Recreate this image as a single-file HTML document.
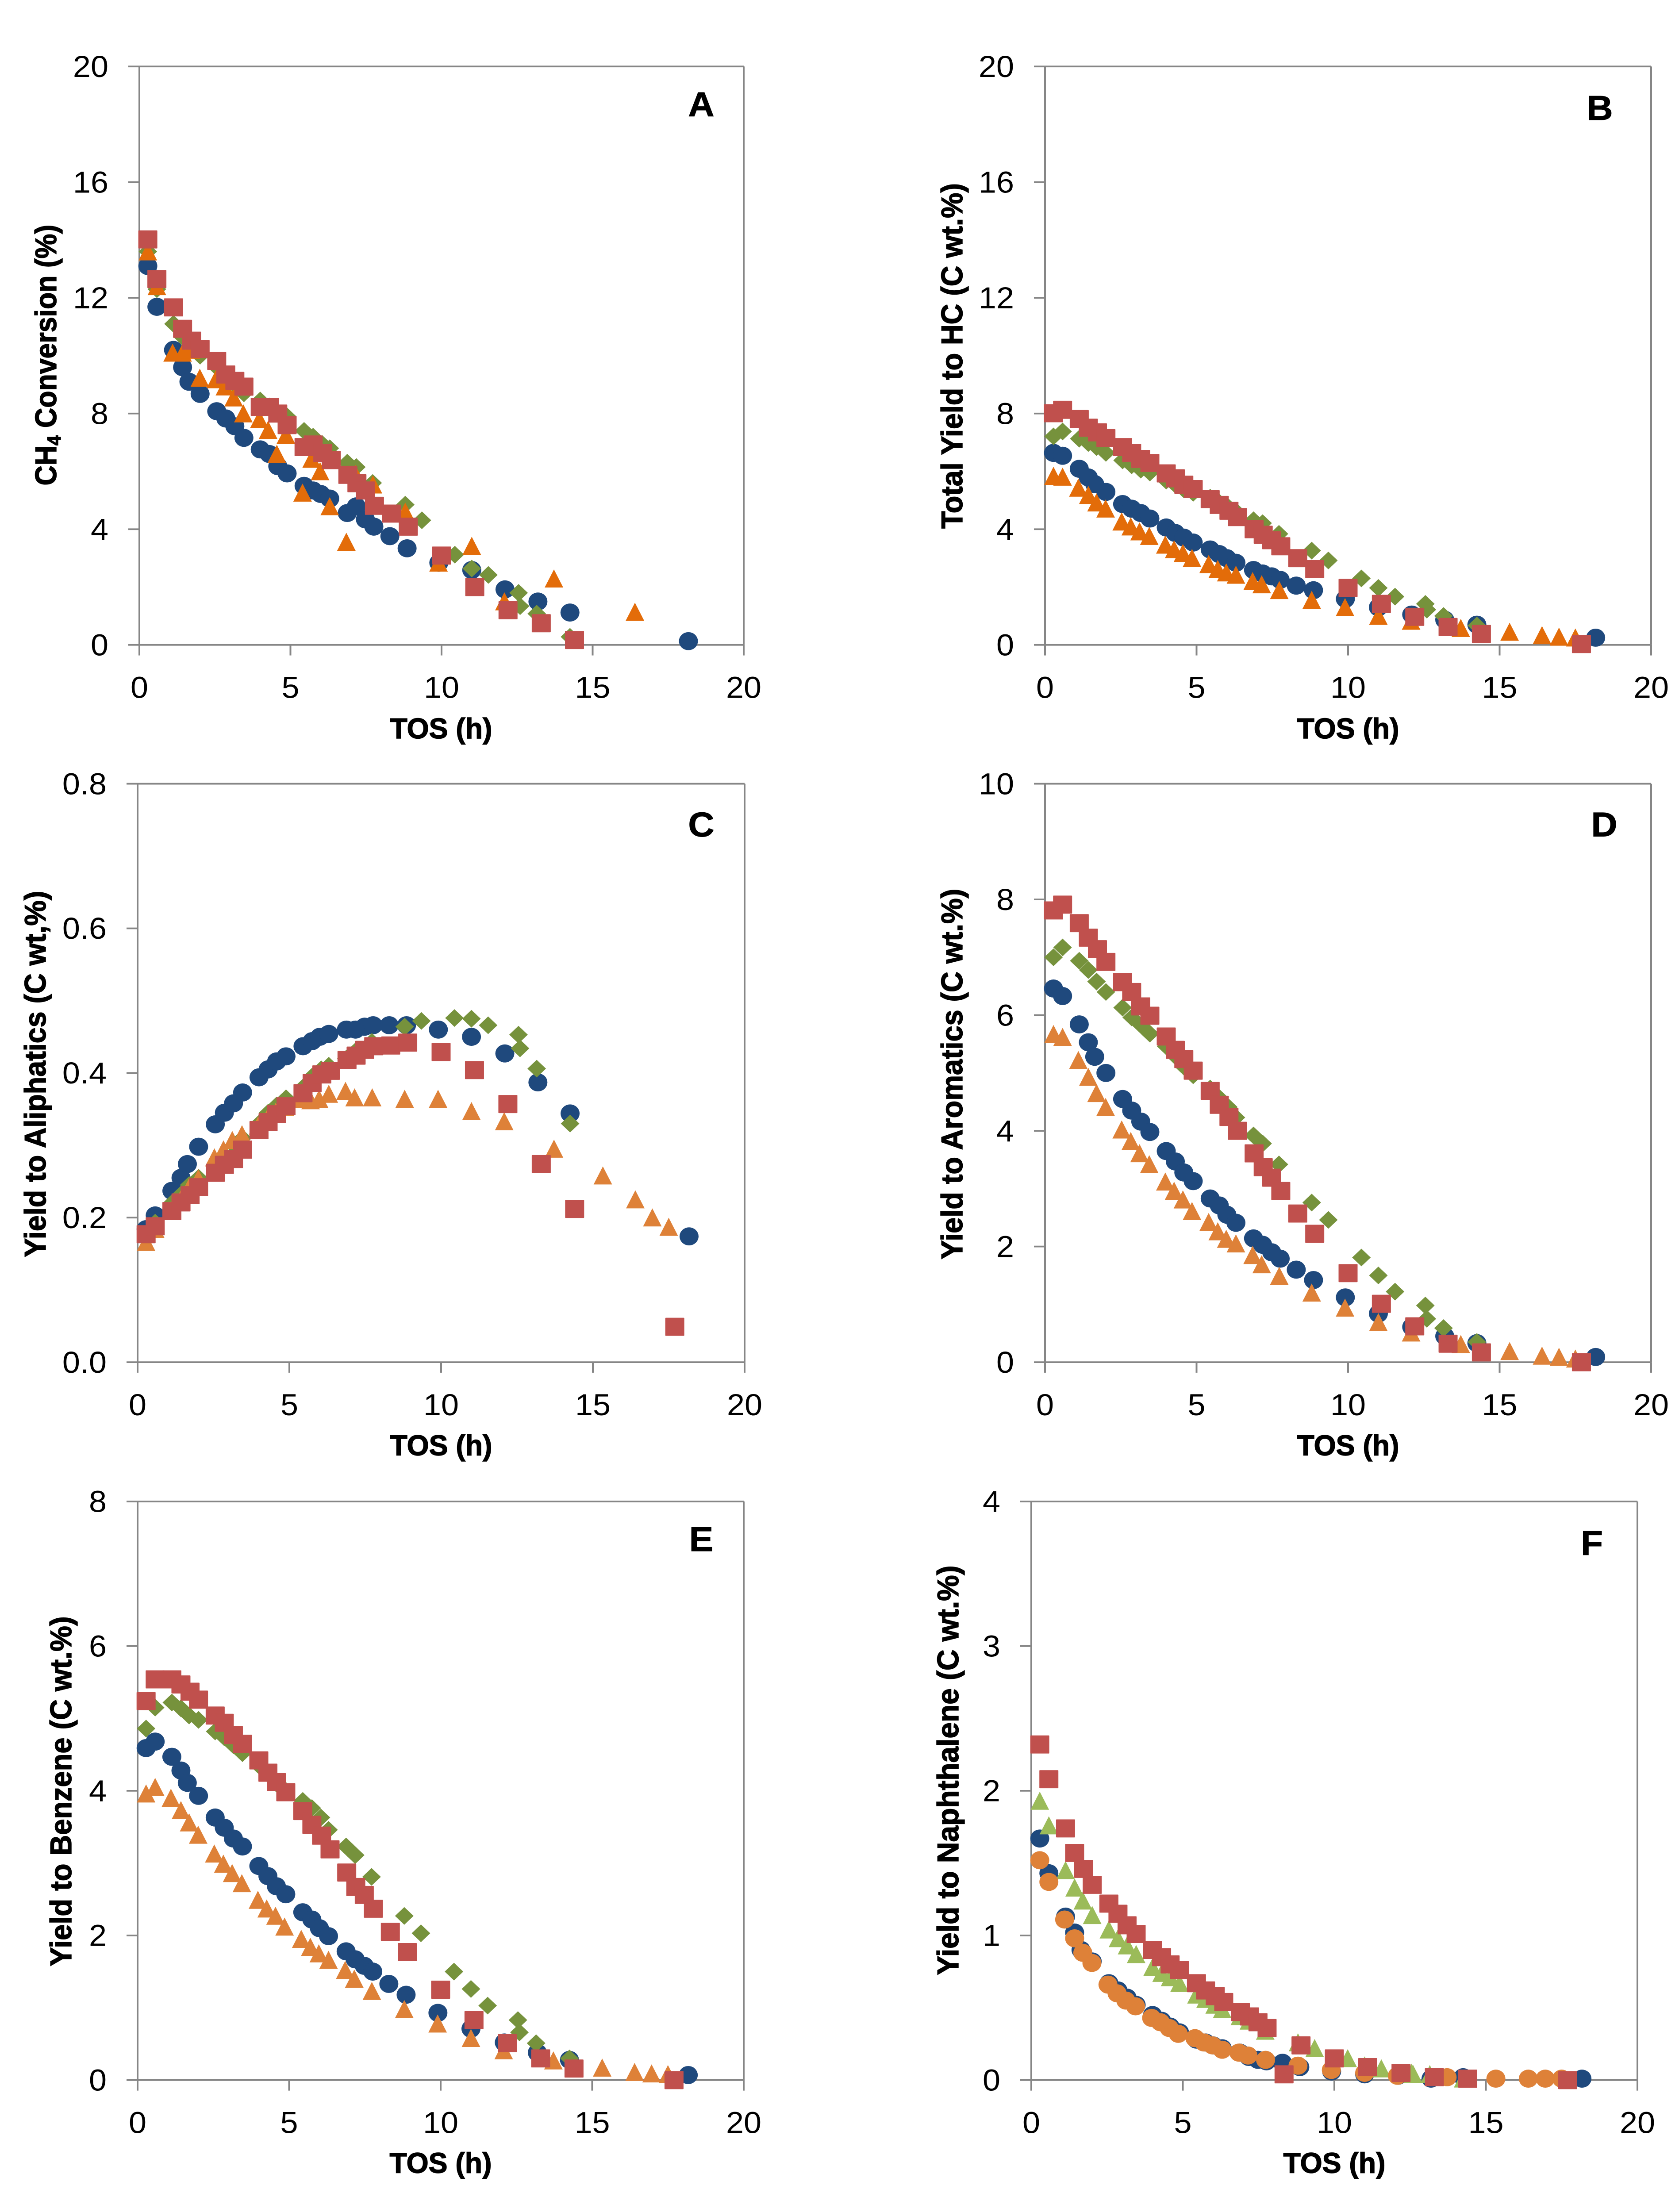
<!DOCTYPE html>
<html lang="en">
<head>
<meta charset="utf-8">
<title>Catalyst performance versus time on stream</title>
<style>
html,body{margin:0;padding:0;background:#fff;width:100%;height:100%;overflow:hidden;}
svg{display:block;width:100vw;height:100vh;overflow:hidden;}
text{font-family:"Liberation Sans",sans-serif;fill:#000;}
.tick{font-size:72px;}
.title{font-size:68px;font-weight:bold;stroke:#000;stroke-width:1.5px;}
.letter{font-size:82px;font-weight:bold;stroke:#000;stroke-width:1px;}
</style>
</head>
<body>
<svg id="chart" xmlns="http://www.w3.org/2000/svg" viewBox="0 0 3795 5258" preserveAspectRatio="none">
<rect x="0" y="0" width="3795" height="5258" fill="#ffffff"/>
<g id="panel-a"></g>
<g id="panel-b"></g>
<g id="panel-c"></g>
<g id="panel-d"></g>
<g id="panel-e"></g>
<g id="panel-f"></g>

<g>
<text class="title" transform="translate(127,844) rotate(-90)" text-anchor="middle" textLength="620" lengthAdjust="spacingAndGlyphs">CH<tspan font-size="44" dy="10">4</tspan><tspan dy="-10"> Conversion (%)</tspan></text>
<text class="title" transform="translate(2175,846) rotate(-90)" text-anchor="middle" textLength="821" lengthAdjust="spacingAndGlyphs">Total Yield to HC (C wt.%)</text>
<text class="title" transform="translate(103,2553) rotate(-90)" text-anchor="middle" textLength="871" lengthAdjust="spacingAndGlyphs">Yield to Aliphatics (C wt,%)</text>
<text class="title" transform="translate(2175,2553) rotate(-90)" text-anchor="middle" textLength="881" lengthAdjust="spacingAndGlyphs">Yield to Aromatics (C wt.%)</text>
<text class="title" transform="translate(161,4258) rotate(-90)" text-anchor="middle" textLength="832" lengthAdjust="spacingAndGlyphs">Yield to Benzene (C wt.%)</text>
<text class="title" transform="translate(2166,4208) rotate(-90)" text-anchor="middle" textLength="974" lengthAdjust="spacingAndGlyphs">Yield to Naphthalene (C wt.%)</text>

<text class="title" x="997" y="1755" text-anchor="middle" textLength="231" lengthAdjust="spacingAndGlyphs">TOS (h)</text>
<text class="title" x="3047" y="1755" text-anchor="middle" textLength="231" lengthAdjust="spacingAndGlyphs">TOS (h)</text>
<text class="title" x="997" y="3459" text-anchor="middle" textLength="231" lengthAdjust="spacingAndGlyphs">TOS (h)</text>
<text class="title" x="3047" y="3459" text-anchor="middle" textLength="231" lengthAdjust="spacingAndGlyphs">TOS (h)</text>
<text class="title" x="996" y="5165" text-anchor="middle" textLength="231" lengthAdjust="spacingAndGlyphs">TOS (h)</text>
<text class="title" x="3016" y="5165" text-anchor="middle" textLength="231" lengthAdjust="spacingAndGlyphs">TOS (h)</text>

<text class="letter" x="1585" y="276" text-anchor="middle">A</text>
<text class="letter" x="3616" y="285" text-anchor="middle">B</text>
<text class="letter" x="1585" y="1988" text-anchor="middle">C</text>
<text class="letter" x="3626" y="1988" text-anchor="middle">D</text>
<text class="letter" x="1585" y="3687" text-anchor="middle">E</text>
<text class="letter" x="3598" y="3696" text-anchor="middle">F</text>
</g>
</svg>
<script>
const xTickLabels = ['0','5','10','15','20'];
const yTicksA = ['0','4','8','12','16','20'];
const yTicksB = ['0','4','8','12','16','20'];
const yTicksC = ['0.0','0.2','0.4','0.6','0.8'];
const yTicksD = ['0','2','4','6','8','10'];
const yTicksE = ['0','2','4','6','8'];
const yTicksF = ['0','1','2','3','4'];

const tosCircle = [0.28,0.58,1.13,1.43,1.64,2.01,2.56,2.86,3.16,3.46,4.0,4.3,4.58,4.89,5.45,5.75,6.0,6.3,6.88,7.18,7.48,7.76,8.29,8.86,9.91,11.0,12.1,13.19,14.25,18.17];
const tosDiamond = [0.28,0.58,1.13,1.43,1.7,2.01,2.56,2.86,3.16,3.46,4.0,4.3,4.58,4.89,5.45,5.75,6.05,6.3,6.88,7.18,7.72,8.8,9.35,10.44,11.0,11.55,12.55,12.6,13.15,14.25];
const tosSquare = [0.28,0.58,1.13,1.43,1.73,2.01,2.56,2.86,3.16,3.46,4.0,4.3,4.58,4.89,5.45,5.75,6.07,6.35,6.9,7.2,7.48,7.78,8.34,8.9,10.0,11.1,12.2,13.3,14.4,17.7];
const tosTriangle = [0.28,0.58,1.1,1.43,1.7,2.0,2.53,2.83,3.12,3.44,3.97,4.26,4.55,4.85,5.4,5.7,5.98,6.3,6.85,7.15,7.73,8.8,9.9,11.0,12.08,13.72,15.33,16.4,16.96,17.5];

const conversionCircle = [13.1,11.69,10.2,9.6,9.1,8.68,8.08,7.83,7.56,7.16,6.76,6.6,6.18,5.93,5.5,5.34,5.22,5.06,4.56,4.79,4.34,4.09,3.76,3.34,2.84,2.59,1.92,1.5,1.12,0.13];
const conversionDiamond = [13.6,12.3,11.1,10.65,10.35,10.0,9.6,9.25,9.0,8.7,8.45,8.25,8.05,7.9,7.4,7.2,6.95,6.8,6.3,6.15,5.6,4.85,4.31,3.12,2.64,2.42,1.8,1.34,1.08,0.28];
const conversionTriangle = [13.6,12.4,10.1,10.1,10.2,9.23,9.18,8.93,8.55,8.0,7.8,7.43,6.6,7.26,5.26,6.43,6.0,4.79,3.56,5.9,5.54,4.6,2.84,3.42,1.5,2.29,null,1.14,null,null];
const conversionSquare = [14.02,12.65,11.67,10.93,10.52,10.23,9.82,9.35,9.13,8.93,8.23,8.23,8.0,7.6,6.84,6.93,6.63,6.39,5.88,5.59,5.34,4.81,4.54,4.09,3.09,2.0,1.2,0.75,0.17,null];

const totalCircle = [6.64,6.54,6.09,5.79,5.56,5.29,4.87,4.71,4.56,4.37,4.06,3.87,3.71,3.54,3.3,3.14,3.0,2.84,2.59,2.47,2.37,2.25,2.05,1.89,1.59,1.3,1.05,0.87,0.7,0.25];
const totalDiamond = [7.21,7.38,7.13,6.98,6.84,6.64,6.38,6.21,6.06,5.96,5.68,5.54,5.38,5.26,5.09,4.92,4.76,4.62,4.31,4.21,3.84,3.26,2.92,2.3,1.97,1.67,1.42,1.22,1.0,0.67];
const totalTriangle = [5.84,5.81,5.43,5.18,4.92,4.71,4.26,4.09,3.92,3.76,3.46,3.3,3.17,3.0,2.79,2.62,2.5,2.42,2.2,2.09,1.89,1.55,1.3,1.0,0.83,0.58,0.45,0.33,0.28,0.25];
const totalSquare = [8.01,8.13,7.81,7.51,7.35,7.15,6.84,6.64,6.43,6.29,5.93,5.76,5.54,5.39,5.04,4.84,4.64,4.42,4.0,3.81,3.62,3.41,3.0,2.62,1.97,1.42,0.97,0.62,0.38,0.03];

const aliphaticCircle = [0.184,0.203,0.237,0.255,0.274,0.298,0.329,0.345,0.358,0.373,0.394,0.405,0.416,0.423,0.437,0.444,0.45,0.454,0.46,0.46,0.464,0.466,0.466,0.466,0.46,0.45,0.427,0.387,0.344,0.174];
const aliphaticDiamond = [0.175,0.193,0.22,0.232,0.245,0.255,0.265,0.285,0.3,0.31,0.33,0.345,0.355,0.365,0.38,0.395,0.405,0.41,0.42,0.43,0.443,0.464,0.472,0.476,0.475,0.466,0.453,0.434,0.406,0.33];
const aliphaticTriangle = [0.166,0.184,0.21,0.226,0.242,0.254,0.283,0.294,0.307,0.315,0.327,0.336,0.346,0.353,0.364,0.362,0.364,0.371,0.375,0.366,0.366,0.364,0.364,0.347,0.333,0.295,0.258,0.225,0.2,0.187];
const aliphaticSquare = [0.177,0.188,0.209,0.221,0.231,0.242,0.262,0.273,0.281,0.294,0.321,0.332,0.343,0.354,0.372,0.386,0.398,0.403,0.418,0.424,0.432,0.437,0.438,0.442,0.429,0.404,0.357,0.274,0.212,0.049];

const aromaticCircle = [6.46,6.33,5.84,5.53,5.28,5.0,4.55,4.35,4.16,3.98,3.65,3.47,3.28,3.13,2.83,2.71,2.55,2.41,2.14,2.03,1.9,1.79,1.6,1.42,1.12,0.84,0.61,0.45,0.33,0.09];
const aromaticDiamond = [7.0,7.17,6.94,6.78,6.58,6.4,6.13,5.96,5.83,5.68,5.46,5.29,5.11,4.96,4.73,4.57,4.41,4.23,3.92,3.78,3.42,2.76,2.46,1.81,1.5,1.22,0.98,0.75,0.59,0.35];
const aromaticTriangle = [5.67,5.62,5.22,4.93,4.65,4.41,4.02,3.82,3.61,3.42,3.12,2.96,2.81,2.61,2.42,2.26,2.13,2.05,1.85,1.69,1.49,1.2,0.94,0.69,0.51,0.31,0.19,0.11,0.09,0.06];
const aromaticSquare = [7.81,7.91,7.59,7.34,7.14,6.92,6.57,6.4,6.15,5.99,5.63,5.4,5.24,5.04,4.69,4.45,4.24,4.0,3.61,3.37,3.19,2.96,2.57,2.22,1.54,1.01,0.62,0.32,0.17,0.0];

const benzeneCircle = [4.59,4.68,4.47,4.28,4.11,3.93,3.63,3.49,3.34,3.23,2.96,2.82,2.68,2.57,2.32,2.22,2.1,1.99,1.78,1.67,1.58,1.5,1.33,1.18,0.93,0.71,0.52,0.38,0.28,0.07];
const benzeneDiamond = [4.86,5.15,5.22,5.14,5.04,4.98,4.82,4.74,4.63,4.52,4.35,4.23,4.1,4.0,3.86,3.76,3.63,3.46,3.23,3.11,2.81,2.27,2.03,1.5,1.26,1.03,0.83,0.66,0.51,0.3];
const benzeneTriangle = [3.96,4.05,3.9,3.73,3.56,3.39,3.13,2.99,2.86,2.72,2.49,2.37,2.27,2.12,1.95,1.84,1.75,1.66,1.52,1.4,1.23,0.98,0.78,0.58,0.41,0.27,0.17,0.11,0.09,0.08];
const benzeneSquare = [5.24,5.54,5.54,5.47,5.37,5.26,5.04,4.94,4.77,4.65,4.42,4.25,4.12,3.98,3.72,3.53,3.38,3.19,2.87,2.67,2.56,2.37,2.05,1.77,1.25,0.83,0.51,0.3,0.16,0.0];

const naphthaleneBlue = [1.67,1.43,1.13,1.02,0.9,0.82,0.67,0.62,0.57,0.52,0.45,0.41,0.37,0.33,0.28,0.26,0.24,0.22,0.19,0.16,0.14,0.13,0.12,0.09,0.06,0.04,0.03,0.01,0.02,0.01];
const naphthaleneGreen = [1.93,1.76,1.45,1.33,1.24,1.14,1.04,0.98,0.93,0.87,0.78,0.74,0.71,0.67,0.59,0.56,0.52,0.49,0.44,0.41,0.34,0.26,0.22,0.15,0.1,0.08,0.05,0.04,0.04,0.01];
const naphthaleneOrange = [1.52,1.37,1.11,0.98,0.88,0.81,0.66,0.6,0.55,0.51,0.43,0.4,0.36,0.32,0.29,0.26,0.24,0.21,0.19,0.17,0.14,0.1,0.07,0.05,0.03,0.02,0.01,0.01,0.01,0.01];
const naphthaleneSquare = [2.32,2.08,1.74,1.57,1.46,1.35,1.22,1.15,1.07,1.01,0.9,0.85,0.8,0.76,0.67,0.62,0.58,0.54,0.47,0.44,0.4,0.36,0.04,0.24,0.15,0.09,0.05,0.02,0.01,0.0];

const NS = 'http://www.w3.org/2000/svg';
const BLUE = '#1F497D', OLIVE = '#76923C', RED = '#C0504D', DEEP_ORANGE = '#E36C09', ORANGE = '#DE8138', LIGHT_GREEN = '#9BBB59';
const AXIS = '#868686';

function shape(tag, parent, fill) {
  const el = document.createElementNS(NS, tag);
  el.setAttribute('fill', fill);
  parent.appendChild(el);
  return el;
}
function drawCircle(parent, cx, cy, fill) {
  const el = shape('circle', parent, fill);
  
  
  el.setAttribute('cx', cx);
  el.setAttribute('cy', cy);
  el.setAttribute('r', 21.5);
}
function drawSquare(parent, cx, cy, fill) {
  const el = shape('rect', parent, fill);
  
  
  el.setAttribute('x', cx - 21.5);
  el.setAttribute('y', cy - 21.5);
  el.setAttribute('width', 43);
  el.setAttribute('height', 43);
  el.setAttribute('rx', 1.5);
}
function drawDiamond(parent, cx, cy, fill) {
  const el = shape('polygon', parent, fill);
  
  
  el.setAttribute('points', [cx, cy - 21, cx + 21, cy, cx, cy + 21, cx - 21, cy].join(' '));
}
function drawTriangle(parent, cx, cy, fill) {
  const el = shape('polygon', parent, fill);
  
  
  el.setAttribute('points', [cx, cy - 22, cx + 21, cy + 21, cx - 21, cy + 21].join(' '));
}
const drawers = { circle: drawCircle, square: drawSquare, diamond: drawDiamond, triangle: drawTriangle };

function axisLine(parent, x1, y1, x2, y2) {
  const el = document.createElementNS(NS, 'line');
  
  
  el.setAttribute('x1', x1);
  el.setAttribute('y1', y1);
  el.setAttribute('x2', x2);
  el.setAttribute('y2', y2);
  el.setAttribute('stroke', AXIS);
  el.setAttribute('stroke-width', 4);
  parent.appendChild(el);
}
function tickText(parent, x, y, anchor, label) {
  const el = document.createElementNS(NS, 'text');
  
  
  el.setAttribute('class', 'tick');
  el.setAttribute('x', x);
  el.setAttribute('y', y);
  el.setAttribute('text-anchor', anchor);
  el.textContent = label;
  parent.appendChild(el);
}

function drawPanel(id, box, yTicks, seriesList) {
  const g = document.getElementById(id);
  const xMax = parseFloat(xTickLabels[xTickLabels.length - 1]);
  const yMax = parseFloat(yTicks[yTicks.length - 1]);
  const sx = v => box.left + (v / xMax) * (box.right - box.left);
  const sy = v => box.bottom - (v / yMax) * (box.bottom - box.top);

  axisLine(g, box.left, box.top, box.right, box.top);
  axisLine(g, box.right, box.top, box.right, box.bottom);
  axisLine(g, box.left, box.top, box.left, box.bottom);
  axisLine(g, box.left, box.bottom, box.right, box.bottom);

  yTicks.forEach(label => {
    const y = sy(parseFloat(label));
    axisLine(g, box.left - 25, y, box.left, y);
    tickText(g, box.left - 70, y + 25, 'end', label);
  });
  xTickLabels.forEach(label => {
    const x = sx(parseFloat(label));
    axisLine(g, x, box.bottom, x, box.bottom + 25);
    tickText(g, x, box.bottom + 126, 'middle', label);
  });

  seriesList.forEach(s => {
    s.values.forEach((v, i) => {
      if (v === null || v === undefined) return;
      drawers[s.kind](g, sx(s.tos[i]), sy(v), s.color);
    });
  });
}

drawPanel('panel-a', {left:315,right:1681,top:158,bottom:1533}, yTicksA, [
  {tos:tosCircle, values:conversionCircle, kind:'circle', color:BLUE},
  {tos:tosDiamond, values:conversionDiamond, kind:'diamond', color:OLIVE},
  {tos:tosTriangle, values:conversionTriangle, kind:'triangle', color:DEEP_ORANGE},
  {tos:tosSquare, values:conversionSquare, kind:'square', color:RED}
]);
drawPanel('panel-b', {left:2362,right:3732,top:158,bottom:1533}, yTicksB, [
  {tos:tosCircle, values:totalCircle, kind:'circle', color:BLUE},
  {tos:tosDiamond, values:totalDiamond, kind:'diamond', color:OLIVE},
  {tos:tosTriangle, values:totalTriangle, kind:'triangle', color:DEEP_ORANGE},
  {tos:tosSquare, values:totalSquare, kind:'square', color:RED}
]);
drawPanel('panel-c', {left:311,right:1683,top:1863,bottom:3238}, yTicksC, [
  {tos:tosCircle, values:aliphaticCircle, kind:'circle', color:BLUE},
  {tos:tosDiamond, values:aliphaticDiamond, kind:'diamond', color:OLIVE},
  {tos:tosTriangle, values:aliphaticTriangle, kind:'triangle', color:ORANGE},
  {tos:tosSquare, values:aliphaticSquare, kind:'square', color:RED}
]);
drawPanel('panel-d', {left:2362,right:3732,top:1863,bottom:3238}, yTicksD, [
  {tos:tosCircle, values:aromaticCircle, kind:'circle', color:BLUE},
  {tos:tosDiamond, values:aromaticDiamond, kind:'diamond', color:OLIVE},
  {tos:tosTriangle, values:aromaticTriangle, kind:'triangle', color:ORANGE},
  {tos:tosSquare, values:aromaticSquare, kind:'square', color:RED}
]);
drawPanel('panel-e', {left:311,right:1681,top:3569,bottom:4944.5}, yTicksE, [
  {tos:tosCircle, values:benzeneCircle, kind:'circle', color:BLUE},
  {tos:tosDiamond, values:benzeneDiamond, kind:'diamond', color:OLIVE},
  {tos:tosTriangle, values:benzeneTriangle, kind:'triangle', color:ORANGE},
  {tos:tosSquare, values:benzeneSquare, kind:'square', color:RED}
]);
drawPanel('panel-f', {left:2331,right:3701,top:3569,bottom:4944.5}, yTicksF, [
  {tos:tosCircle, values:naphthaleneBlue, kind:'circle', color:BLUE},
  {tos:tosDiamond, values:naphthaleneGreen, kind:'triangle', color:LIGHT_GREEN},
  {tos:tosTriangle, values:naphthaleneOrange, kind:'circle', color:ORANGE},
  {tos:tosSquare, values:naphthaleneSquare, kind:'square', color:RED}
]);
</script>
</body>
</html>
